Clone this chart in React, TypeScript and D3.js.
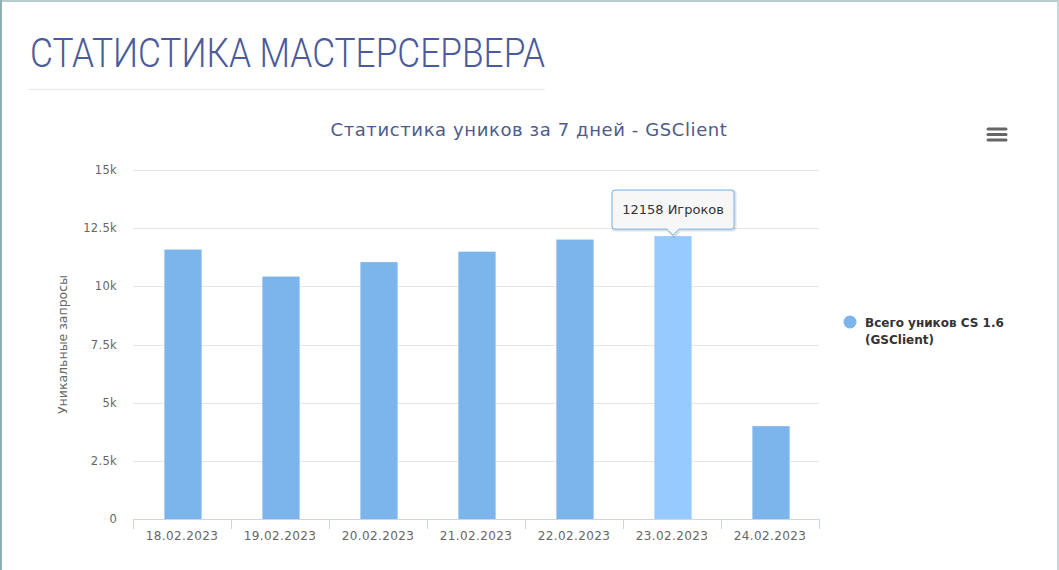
import { useEffect, useRef } from 'react';
import * as d3 from 'd3';

const categories = [
  '18.02.2023',
  '19.02.2023',
  '20.02.2023',
  '21.02.2023',
  '22.02.2023',
  '23.02.2023',
  '24.02.2023',
];
const uniques = [11580, 10420, 11040, 11490, 12010, 12158, 3990];
const yTicks = [0, 2500, 5000, 7500, 10000, 12500, 15000];
const hoveredIndex = 5;

const W = 1059;
const H = 570;

export default function App() {
  const svgRef = useRef<SVGSVGElement>(null);

  useEffect(() => {
    if (!svgRef.current) return;
    const svg = d3.select(svgRef.current);
    svg.selectAll('*').remove();

    const font = '"DejaVu Sans", Verdana, sans-serif';

    // page frame
    svg.append('rect').attr('width', W).attr('height', H).attr('fill', '#fff');
    svg.append('rect').attr('x', 0).attr('y', 0).attr('width', W).attr('height', 2).attr('fill', '#b9cccc');
    svg.append('rect').attr('x', 0).attr('y', 0).attr('width', 2).attr('height', H).attr('fill', '#8fb0b0');
    svg.append('rect').attr('x', W - 2).attr('y', 0).attr('width', 2).attr('height', H).attr('fill', '#c9d6d6');

    // page heading
    svg
      .append('text')
      .attr('x', 30)
      .attr('y', 67)
      .attr('textLength', 515)
      .attr('lengthAdjust', 'spacingAndGlyphs')
      .attr('font-family', 'Roboto, sans-serif')
      .attr('font-weight', 300)
      .attr('font-size', 41)
      .attr('fill', '#4b5a9c')
      .text('СТАТИСТИКА МАСТЕРСЕРВЕРА');
    svg
      .append('line')
      .attr('x1', 28)
      .attr('x2', 545)
      .attr('y1', 89.5)
      .attr('y2', 89.5)
      .attr('stroke', '#e8e8e8');

    // chart title
    svg
      .append('text')
      .attr('x', 529)
      .attr('y', 136)
      .attr('text-anchor', 'middle')
      .attr('font-family', font)
      .attr('font-size', 18)
      .attr('letter-spacing', 0.6)
      .attr('fill', '#4d5b8c')
      .text('Статистика уников за 7 дней - GSClient');

    // menu icon
    const menu = svg.append('g').attr('transform', 'translate(988,128)');
    [0, 5.5, 11].forEach((dy) => {
      menu
        .append('line')
        .attr('x1', 0)
        .attr('x2', 18)
        .attr('y1', dy + 1)
        .attr('y2', dy + 1)
        .attr('stroke', '#666')
        .attr('stroke-width', 3)
        .attr('stroke-linecap', 'round');
    });

    const plot = { left: 133, right: 819, top: 170, bottom: 519 };

    const x = d3.scaleBand<string>().domain(categories).range([plot.left, plot.right]).padding(0);
    const y = d3.scaleLinear().domain([0, 15000]).range([plot.bottom, plot.top]);

    // grid
    svg
      .selectAll('.grid')
      .data(yTicks.filter((t) => t > 0))
      .enter()
      .append('line')
      .attr('x1', plot.left)
      .attr('x2', plot.right)
      .attr('y1', (d) => Math.round(y(d)) + 0.5)
      .attr('y2', (d) => Math.round(y(d)) + 0.5)
      .attr('stroke', '#e6e6e6');

    // y labels
    svg
      .selectAll('.ylab')
      .data(yTicks)
      .enter()
      .append('text')
      .attr('x', 117)
      .attr('y', (d) => y(d) + 4)
      .attr('text-anchor', 'end')
      .attr('font-family', font)
      .attr('font-size', 11.5)
      .attr('letter-spacing', 0.3)
      .attr('fill', '#666')
      .text((d) => (d === 0 ? '0' : `${d / 1000}k`));

    // y title
    svg
      .append('text')
      .attr('transform', `translate(67,${(plot.top + plot.bottom) / 2}) rotate(-90)`)
      .attr('text-anchor', 'middle')
      .attr('font-family', font)
      .attr('font-size', 12.5)
      .attr('fill', '#666')
      .text('Уникальные запросы');

    // bars
    const bw = x.bandwidth() * 0.38;
    svg
      .selectAll('.bar')
      .data(uniques)
      .enter()
      .append('rect')
      .attr('x', (_, i) => (x(categories[i]) ?? 0) + (x.bandwidth() - bw) / 2 + 1)
      .attr('y', (d) => y(d))
      .attr('width', bw)
      .attr('height', (d) => plot.bottom - y(d))
      .attr('fill', (_, i) => (i === hoveredIndex ? '#97cbff' : '#7cb5ec'));

    // x axis
    svg
      .append('line')
      .attr('x1', plot.left)
      .attr('x2', plot.right)
      .attr('y1', plot.bottom + 0.5)
      .attr('y2', plot.bottom + 0.5)
      .attr('stroke', '#ccd6eb');
    const ticks = [...categories.map((c) => x(c) ?? 0), plot.right];
    svg
      .selectAll('.xtick')
      .data(ticks)
      .enter()
      .append('line')
      .attr('x1', (d) => Math.round(d) + 0.5)
      .attr('x2', (d) => Math.round(d) + 0.5)
      .attr('y1', plot.bottom)
      .attr('y2', plot.bottom + 10)
      .attr('stroke', '#ccd6eb');
    svg
      .selectAll('.xlab')
      .data(categories)
      .enter()
      .append('text')
      .attr('x', (d) => (x(d) ?? 0) + x.bandwidth() / 2)
      .attr('y', 540)
      .attr('text-anchor', 'middle')
      .attr('font-family', font)
      .attr('font-size', 12)
      .attr('letter-spacing', 0.4)
      .attr('fill', '#666')
      .text((d) => d);

    // tooltip
    const tipX = (x(categories[hoveredIndex]) ?? 0) + x.bandwidth() / 2 + 1;
    const tipY = y(uniques[hoveredIndex]);
    const bx = tipX - 61;
    const by = tipY - 46;
    const bwid = 122;
    const bh = 39;
    const tipPath = `M${bx + 3},${by} H${bx + bwid - 3} Q${bx + bwid},${by} ${bx + bwid},${by + 3} V${by + bh - 3} Q${bx + bwid},${by + bh} ${bx + bwid - 3},${by + bh} H${tipX + 6} L${tipX},${tipY - 1} L${tipX - 6},${by + bh} H${bx + 3} Q${bx},${by + bh} ${bx},${by + bh - 3} V${by + 3} Q${bx},${by} ${bx + 3},${by} Z`;
    svg
      .append('path')
      .attr('d', tipPath)
      .attr('transform', 'translate(1,1)')
      .attr('fill', 'none')
      .attr('stroke', 'rgba(0,0,0,0.12)')
      .attr('stroke-width', 3);
    svg
      .append('path')
      .attr('d', tipPath)
      .attr('fill', 'rgba(247,247,247,0.95)')
      .attr('stroke', '#7cb5ec')
      .attr('stroke-width', 1);
    svg
      .append('text')
      .attr('x', tipX)
      .attr('y', by + 24)
      .attr('text-anchor', 'middle')
      .attr('font-family', font)
      .attr('font-size', 13)
      .attr('fill', '#333')
      .text(`${uniques[hoveredIndex]} Игроков`);

    // legend
    svg.append('circle').attr('cx', 850).attr('cy', 322).attr('r', 6.5).attr('fill', '#7cb5ec');
    const leg = svg
      .append('text')
      .attr('font-family', font)
      .attr('font-size', 12)
      .attr('font-weight', 'bold')
      .attr('fill', '#333');
    leg.append('tspan').attr('x', 865).attr('y', 327).text('Всего уников CS 1.6');
    leg.append('tspan').attr('x', 865).attr('y', 344).text('(GSClient)');
  }, []);

  return (
    <div style={{ position: 'fixed', left: 0, top: 0 }}>
      <svg ref={svgRef} width={W} height={H} style={{ display: 'block' }} />
    </div>
  );
}
